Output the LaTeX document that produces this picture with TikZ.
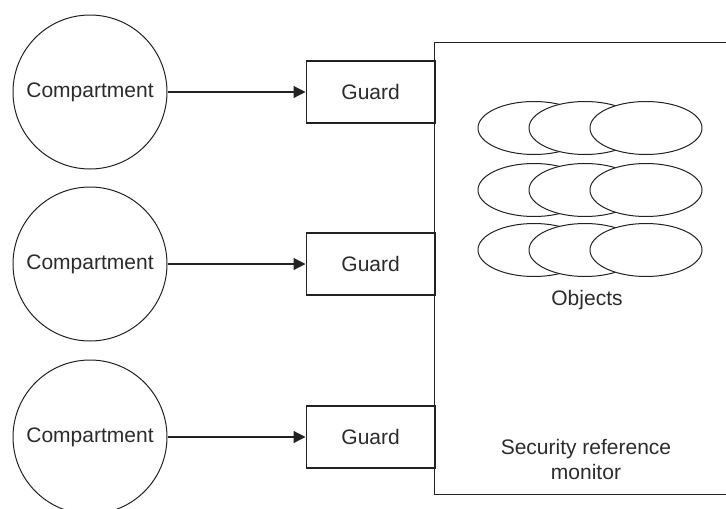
\documentclass[tikz,border=0pt]{standalone}
\usepackage{fontspec}
\setmainfont{Liberation Sans}
\usetikzlibrary{arrows.meta, positioning, shapes.geometric}
\definecolor{cink}{HTML}{222222}
\definecolor{ctext}{HTML}{2B2B2B}
\tikzset{
  every picture/.style={font=\fontsize{21}{25}\selectfont, line width=1pt},
  compartment/.style={draw=cink, circle, minimum size=154pt, inner sep=0pt, text=ctext},
  guard/.style={draw=cink, line width=1.3pt, minimum width=129pt, minimum height=62pt, inner sep=0pt, text=ctext},
  monitor/.style={draw=cink, line width=1.3pt, anchor=north west, minimum width=330pt, minimum height=452pt, inner sep=0pt},
  object/.style={draw=cink, fill=white, ellipse, minimum width=112pt, minimum height=53pt, inner sep=0pt},
  arrow/.style={-{Triangle[length=12pt, width=12pt]}, draw=cink, line width=1.2pt},
  note/.style={text=ctext, align=center},
}

\begin{document}
\begin{tikzpicture}[x=1pt, y=-1pt]
  \useasboundingbox (0,0) rectangle (726,509);
  \clip (0,0) rectangle (726,509);
  \node[monitor] (srm) at (434,42) {};
  \node[compartment] (c1) at (90,92) {Compartment};
  \node[compartment] (c2) at (90,264) {Compartment};
  \node[compartment] (c3) at (90,437) {Compartment};
  \node[guard, right=138pt of c1] (g1) {Guard};
  \node[guard, right=138pt of c2] (g2) {Guard};
  \node[guard, right=138pt of c3] (g3) {Guard};
  \foreach \i in {1,2,3} \draw[arrow] (c\i) -- (g\i);
  % objects, drawn left to right so each hides the one before
  \foreach \r/\y in {1/128, 2/190, 3/250}
    \foreach \c/\x in {1/534, 2/585, 3/646}
      \node[object] (o\r\c) at (\x,\y) {};
  \node[note] (objects) at (587,300) {Objects};
  \node[note] (srmlabel) at (586,459) {Security reference\\monitor};
\end{tikzpicture}
\end{document}
